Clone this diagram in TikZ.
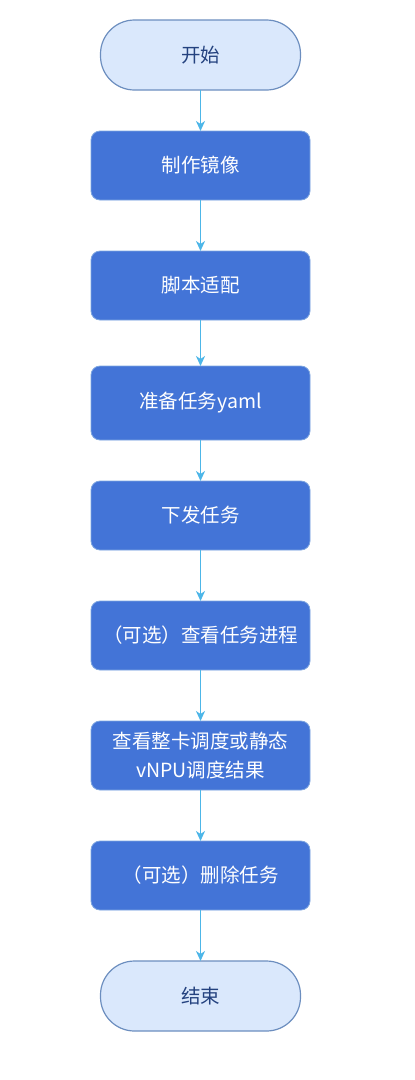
\documentclass[tikz,border=0pt]{standalone}
\usepackage{fontspec}
\setmainfont{Noto Sans CJK SC}
\usepackage{tikz}
\usetikzlibrary{arrows.meta,positioning}

\definecolor{stepblue}{HTML}{4374D7}
\definecolor{stepline}{HTML}{7EA6E0}
\definecolor{endfill}{HTML}{DAE8FC}
\definecolor{endline}{HTML}{6C8EBF}
\definecolor{endtext}{HTML}{24427F}
\definecolor{flowarr}{HTML}{4DB6E8}

\begin{document}
\begin{tikzpicture}[
  font=\fontsize{19.5pt}{29pt}\selectfont,
  node distance=51pt,
  stepbox/.style ={rectangle, rounded corners=9pt, draw=stepline, fill=stepblue,
                   text=white, line width=0.8pt, minimum width=219pt,
                   minimum height=69pt, outer sep=0pt, align=center},
  term/.style    ={rectangle, rounded corners=34pt, draw=endline, fill=endfill,
                   text=endtext, line width=1.2pt, minimum width=200pt,
                   minimum height=70pt, outer sep=0pt, align=center},
  arr/.style     ={-{Stealth[length=10pt, width=9pt, inset=3pt]}, draw=flowarr,
                   line width=1.6pt}
]
\useasboundingbox (0,0) rectangle (415pt,-1080pt);

\node[term] (start) at (200.5pt,-55pt) {开始};
\node[stepbox, below=41pt of start] (image) {制作镜像};
\node[stepbox, below=of image] (script) {脚本适配};
\node[stepbox, below=46pt of script, minimum height=74pt] (yaml) {准备任务yaml};
\node[stepbox, below=41pt of yaml] (submit) {下发任务};
\node[stepbox, below=of submit] (progress) {（可选）查看任务进程};
\node[stepbox, below=of progress] (result) {查看整卡调度或静态\\vNPU调度结果};
\node[stepbox, below=of result] (delete) {（可选）删除任务};
\node[term, below=of delete] (finish) {结束};

\draw[arr] (start)    -- (image);
\draw[arr] (image)    -- (script);
\draw[arr] (script)   -- (yaml);
\draw[arr] (yaml)     -- (submit);
\draw[arr] (submit)   -- (progress);
\draw[arr] (progress) -- (result);
\draw[arr] (result)   -- (delete);
\draw[arr] (delete)   -- (finish);
\end{tikzpicture}
\end{document}
